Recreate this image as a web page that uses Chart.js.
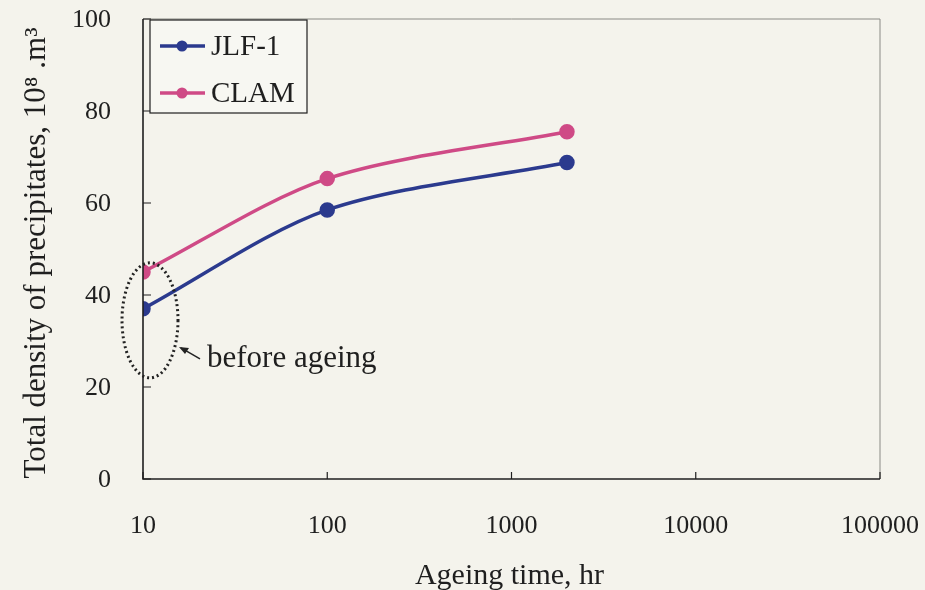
<!DOCTYPE html>
<html>
<head>
<meta charset="utf-8">
<script src="https://cdn.jsdelivr.net/npm/chart.js"></script>
<style>
  html, body { margin: 0; padding: 0; background: #f4f3ec; }
  #wrap { width: 925px; height: 590px; }
</style>
</head>
<body>
<div id="wrap"><canvas id="myChart" width="925" height="590"></canvas></div>
<script>
// data
const ageingHours = [10, 100, 2000];
const jlfDensity = [37, 58.5, 68.8];
const clamDensity = [45, 65.3, 75.5];
const xTickValues = [10, 100, 1000, 10000, 100000];
const yTickValues = [0, 20, 40, 60, 80, 100];
const xTitle = 'Ageing time, hr';
const yTitle = 'Total density of precipitates, 10\u2078 .m\u00b3';

const serif = '"Liberation Serif", "DejaVu Serif", serif';
const ink = '#1f1f1f';

// frame, inward ticks, tick labels, titles, legend box and the "before ageing" note
const decorPlugin = {
  id: 'decor',
  afterDraw(chart) {
    const ctx = chart.ctx;
    const a = chart.chartArea;
    const xs = chart.scales.x, ys = chart.scales.y;
    ctx.save();

    // thin outer frame
    ctx.strokeStyle = '#8a8a85';
    ctx.lineWidth = 1;
    ctx.beginPath();
    ctx.moveTo(a.left, a.top); ctx.lineTo(a.right, a.top); ctx.lineTo(a.right, a.bottom);
    ctx.stroke();

    // main axes
    ctx.strokeStyle = ink;
    ctx.lineWidth = 1.6;
    ctx.beginPath();
    ctx.moveTo(a.left, a.top); ctx.lineTo(a.left, a.bottom); ctx.lineTo(a.right, a.bottom);
    ctx.stroke();

    // inward tick marks
    ctx.lineWidth = 1.2;
    ctx.beginPath();
    xTickValues.forEach(v => {
      const px = xs.getPixelForValue(v);
      ctx.moveTo(px, a.bottom); ctx.lineTo(px, a.bottom - 7);
    });
    yTickValues.forEach(v => {
      const py = ys.getPixelForValue(v);
      ctx.moveTo(a.left, py); ctx.lineTo(a.left + 8, py);
    });
    ctx.stroke();

    // tick labels
    ctx.fillStyle = ink;
    ctx.font = '26px ' + serif;
    ctx.textBaseline = 'middle';
    ctx.textAlign = 'center';
    xTickValues.forEach(v => {
      ctx.fillText(String(v), xs.getPixelForValue(v), a.bottom + 47);
    });
    ctx.textAlign = 'right';
    yTickValues.forEach(v => {
      ctx.fillText(String(v), a.left - 32, ys.getPixelForValue(v) + 1);
    });

    // axis titles
    ctx.font = '30px ' + serif;
    ctx.textAlign = 'center';
    ctx.fillText(xTitle, (a.left + a.right) / 2 - 2, a.bottom + 97);
    ctx.save();
    ctx.translate(37, (a.top + a.bottom) / 2 + 4);
    ctx.rotate(-Math.PI / 2);
    ctx.font = '31px ' + serif;
    ctx.fillText(yTitle, 0, 0);
    ctx.restore();

    // legend
    const lx = a.left + 7, ly = a.top + 1, lw = 157, lh = 93;
    ctx.fillStyle = '#f7f7f2';
    ctx.fillRect(lx, ly, lw, lh);
    ctx.strokeStyle = ink;
    ctx.lineWidth = 1.2;
    ctx.strokeRect(lx, ly, lw, lh);
    chart.data.datasets.forEach((ds, i) => {
      const cy = ly + 26 + i * 47;
      ctx.strokeStyle = ds.borderColor;
      ctx.lineWidth = 3.5;
      ctx.beginPath();
      ctx.moveTo(lx + 10, cy); ctx.lineTo(lx + 55, cy);
      ctx.stroke();
      ctx.fillStyle = ds.borderColor;
      ctx.beginPath();
      ctx.arc(lx + 32, cy, 5.5, 0, Math.PI * 2);
      ctx.fill();
      ctx.fillStyle = ink;
      ctx.font = '29px ' + serif;
      ctx.textBaseline = 'middle';
      ctx.textAlign = 'left';
      ctx.fillText(ds.label, lx + 61, cy + 1);
    });

    // dotted ellipse around the initial points
    const ex = xs.getPixelForValue(10) + 7;
    const eyTop = ys.getPixelForValue(47);
    const eyBot = ys.getPixelForValue(22);
    ctx.strokeStyle = '#222';
    ctx.lineWidth = 3;
    ctx.setLineDash([2, 3]);
    ctx.beginPath();
    ctx.ellipse(ex, (eyTop + eyBot) / 2, 28, (eyBot - eyTop) / 2, 0, 0, Math.PI * 2);
    ctx.stroke();
    ctx.setLineDash([]);

    // arrow and note
    const ay = ys.getPixelForValue(28.5);
    ctx.lineWidth = 1.5;
    ctx.beginPath();
    ctx.moveTo(ex + 50, ay + 11);
    ctx.lineTo(ex + 31, ay);
    ctx.stroke();
    ctx.fillStyle = '#222';
    ctx.beginPath();
    ctx.moveTo(ex + 29, ay - 1);
    ctx.lineTo(ex + 39, ay + 0);
    ctx.lineTo(ex + 35, ay + 6);
    ctx.closePath();
    ctx.fill();
    ctx.fillStyle = ink;
    ctx.font = '31px ' + serif;
    ctx.textAlign = 'left';
    ctx.textBaseline = 'middle';
    ctx.fillText('before ageing', ex + 57, ay + 11);

    ctx.restore();
  }
};

const ctx = document.getElementById('myChart').getContext('2d');
const myChart = new Chart(ctx, {
  type: 'line',
  data: {
    datasets: [
      {
        label: 'JLF-1',
        data: ageingHours.map((h, i) => ({ x: h, y: jlfDensity[i] })),
        borderColor: '#2b3a8e',
        backgroundColor: '#2b3a8e',
        borderWidth: 3.5,
        pointRadius: 6,
        tension: 0.3
      },
      {
        label: 'CLAM',
        data: ageingHours.map((h, i) => ({ x: h, y: clamDensity[i] })),
        borderColor: '#cf4a86',
        backgroundColor: '#cf4a86',
        borderWidth: 3.5,
        pointRadius: 6,
        tension: 0.3
      }
    ]
  },
  options: {
    responsive: false,
    animation: false,
    layout: { padding: { left: 0, right: 45, top: 19, bottom: 0 } },
    plugins: { legend: { display: false }, tooltip: { enabled: false } },
    scales: {
      x: {
        type: 'logarithmic',
        min: 10,
        max: 100000,
        afterBuildTicks(scale) { scale.ticks = xTickValues.map(v => ({ value: v })); },
        afterFit(scale) { scale.height = 111; },
        grid: { display: false, drawTicks: false },
        border: { display: false },
        ticks: { display: false }
      },
      y: {
        min: 0,
        max: 100,
        afterBuildTicks(scale) { scale.ticks = yTickValues.map(v => ({ value: v })); },
        afterFit(scale) { scale.width = 143; },
        grid: { display: false, drawTicks: false },
        border: { display: false },
        ticks: { display: false }
      }
    }
  },
  plugins: [decorPlugin]
});
</script>
</body>
</html>
